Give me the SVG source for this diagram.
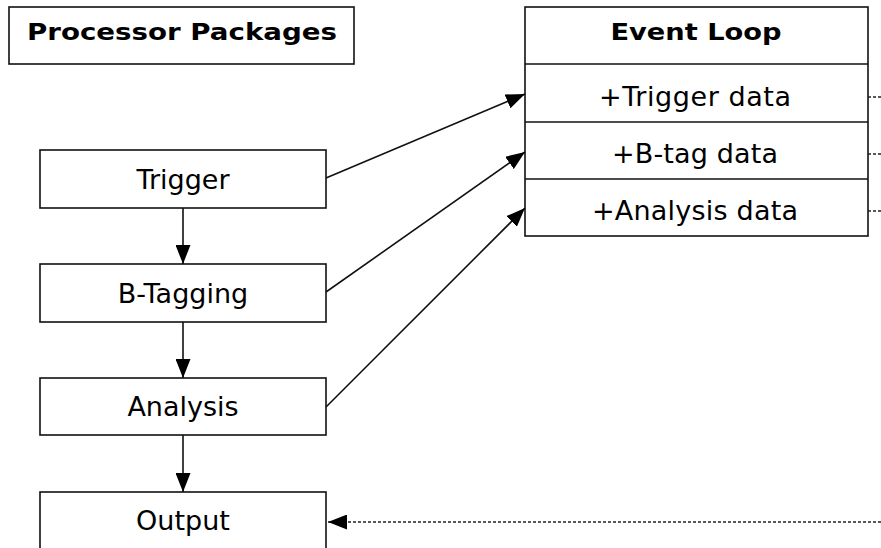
<svg xmlns="http://www.w3.org/2000/svg" width="881" height="548" viewBox="0 0 881 548">
<style>
.box{fill:#fff;stroke:#111;stroke-width:1.6}
.t{font-family:"DejaVu Sans",sans-serif;font-size:27px;fill:#000;text-anchor:middle}
.b{font-family:"DejaVu Sans",sans-serif;font-size:23px;font-weight:bold;fill:#000;text-anchor:middle}
.ln{fill:none;stroke:#111;stroke-width:1.6}
.dash{fill:none;stroke:#222;stroke-width:1.3;stroke-dasharray:3 2}
</style>
<defs>
<marker id="ah" markerWidth="19" markerHeight="15" refX="19" refY="7.5" orient="auto" markerUnits="userSpaceOnUse">
<path d="M0,0 L19,7.5 L0,15 Z" fill="#000"/>
</marker>
</defs>
<g id="processor-packages">
<rect class="box" x="9" y="7" width="345" height="57"/>
<text class="b" x="182" y="40" textLength="310" lengthAdjust="spacingAndGlyphs">Processor Packages</text>
</g>
<g id="event-loop">
<rect class="box" x="525" y="7" width="343" height="229"/>
<line class="ln" x1="525" y1="64" x2="868" y2="64"/>
<line class="ln" x1="525" y1="122" x2="868" y2="122"/>
<line class="ln" x1="525" y1="179" x2="868" y2="179"/>
<text class="b" x="696" y="40" textLength="171" lengthAdjust="spacingAndGlyphs">Event Loop</text>
<text class="t" x="695" y="106" textLength="192">+Trigger data</text>
<text class="t" x="695" y="163" textLength="166">+B-tag data</text>
<text class="t" x="695" y="220" textLength="206">+Analysis data</text>
</g>
<g id="trigger">
<rect class="box" x="40" y="150" width="286" height="58"/>
<text class="t" x="183" y="189">Trigger</text>
</g>
<g id="b-tagging">
<rect class="box" x="40" y="264" width="286" height="58"/>
<text class="t" x="183" y="303">B-Tagging</text>
</g>
<g id="analysis">
<rect class="box" x="40" y="378" width="286" height="57"/>
<text class="t" x="183" y="416">Analysis</text>
</g>
<g id="output">
<rect class="box" x="40" y="492" width="286" height="60"/>
<text class="t" x="183" y="530">Output</text>
</g>
<g id="connectors">
<line class="ln" x1="183" y1="208" x2="183" y2="264" marker-end="url(#ah)"/>
<line class="ln" x1="183" y1="322" x2="183" y2="378" marker-end="url(#ah)"/>
<line class="ln" x1="183" y1="435" x2="183" y2="492" marker-end="url(#ah)"/>
<line class="ln" x1="326" y1="178" x2="525" y2="94" marker-end="url(#ah)"/>
<line class="ln" x1="326" y1="292" x2="525" y2="152" marker-end="url(#ah)"/>
<line class="ln" x1="326" y1="407" x2="525" y2="208" marker-end="url(#ah)"/>
<line class="dash" x1="868" y1="97" x2="881" y2="97"/>
<line class="dash" x1="868" y1="154" x2="881" y2="154"/>
<line class="dash" x1="868" y1="211" x2="881" y2="211"/>
<line class="dash" x1="881" y1="522" x2="328" y2="522" marker-end="url(#ah)"/>
</g>
</svg>
